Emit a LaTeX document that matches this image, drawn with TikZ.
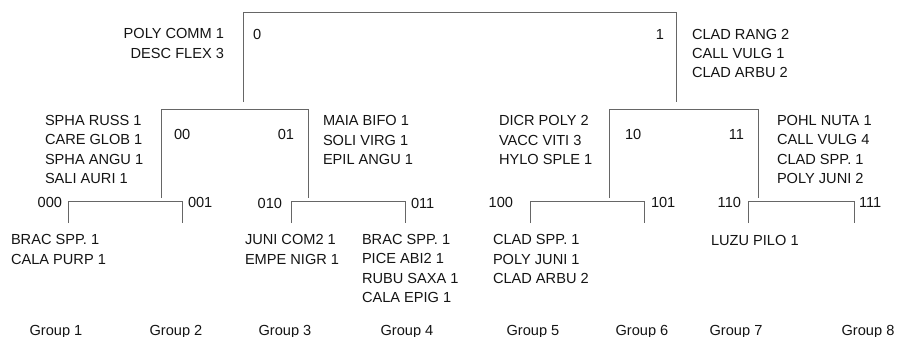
\documentclass[tikz,border=0pt]{standalone}
\usepackage{fontspec}
\setmainfont{Liberation Sans}
\begin{document}
\begin{tikzpicture}[x=1pt,y=-1pt,
  every node/.style={inner sep=0pt,outer sep=0pt,text=black!92,font=\fontsize{14.6}{19.3}\selectfont},
  lst/.style={align=left,anchor=west},
  lbl/.style={anchor=west},
  lblr/.style={anchor=east},
  br/.style={draw=black!60,line width=0.9pt}]
\useasboundingbox (0,0) rectangle (902,337);
% tree coordinates
\coordinate (a0) at (243,12); \coordinate (a1) at (676,12);
\coordinate (b0) at (243,102); \coordinate (b1) at (676,102);
\coordinate (c00) at (161,109); \coordinate (c01) at (308,109);
\coordinate (d00) at (161,198); \coordinate (d01) at (308,198);
\coordinate (c10) at (609,109); \coordinate (c11) at (758,109);
\coordinate (d10) at (609,198); \coordinate (d11) at (758,198);
\coordinate (e000) at (68,201); \coordinate (e001) at (182,201);
\coordinate (f000) at (68,223); \coordinate (f001) at (182,223);
\coordinate (e010) at (291,201); \coordinate (e011) at (405,201);
\coordinate (f010) at (291,223); \coordinate (f011) at (405,223);
\coordinate (e100) at (530,201); \coordinate (e101) at (644,201);
\coordinate (f100) at (530,223); \coordinate (f101) at (644,223);
\coordinate (e110) at (748,201); \coordinate (e111) at (854,201);
\coordinate (f110) at (748,223); \coordinate (f111) at (854,223);
% brackets
\draw[br] (b0) -- (a0) -- (a1) -- (b1);
\draw[br] (d00) -- (c00) -- (c01) -- (d01);
\draw[br] (d10) -- (c10) -- (c11) -- (d11);
\draw[br] (f000) -- (e000) -- (e001) -- (f001);
\draw[br] (f010) -- (e010) -- (e011) -- (f011);
\draw[br] (f100) -- (e100) -- (e101) -- (f101);
\draw[br] (f110) -- (e110) -- (e111) -- (f111);
% level 1
\node[align=right,anchor=east] (t0) at (224,43.5) {POLY COMM 1\\DESC FLEX 3};
\node[lbl] (k0) at (253,34) {0};
\node[lblr] (k1) at (664,34) {1};
\node[lst] (t1) at (692,53.5) {CLAD RANG 2\\CALL VULG 1\\CLAD ARBU 2};
% level 2
\node[lst] (t00) at (45,149.5) {SPHA RUSS 1\\CARE GLOB 1\\SPHA ANGU 1\\SALI AURI 1};
\node[lbl] (k00) at (174,134) {00};
\node[lblr] (k01) at (294,134) {01};
\node[lst] (t01) at (323,140) {MAIA BIFO 1\\SOLI VIRG 1\\EPIL ANGU 1};
\node[lst] (t10) at (499,140) {DICR POLY 2\\VACC VITI 3\\HYLO SPLE 1};
\node[lbl] (k10) at (625,134) {10};
\node[lblr] (k11) at (744,134) {11};
\node[lst] (t11) at (777,149.5) {POHL NUTA 1\\CALL VULG 4\\CLAD SPP. 1\\POLY JUNI 2};
% level 3 labels
\node[lblr] (k000) at (62,202) {000};
\node[lbl] (k001) at (188,202) {001};
\node[lblr] (k010) at (282,203) {010};
\node[lbl] (k011) at (411,203) {011};
\node[lblr] (k100) at (513,202) {100};
\node[lbl] (k101) at (651,202) {101};
\node[lblr] (k110) at (741,202) {110};
\node[lbl] (k111) at (859,202) {111};
% leaf lists
\node[lst] (t000) at (11,249.5) {BRAC SPP. 1\\CALA PURP 1};
\node[lst] (t010) at (245,249.5) {JUNI COM2 1\\EMPE NIGR 1};
\node[lst] (t011) at (362,268.5) {BRAC SPP. 1\\PICE ABI2 1\\RUBU SAXA 1\\CALA EPIG 1};
\node[lst] (t100) at (493,259) {CLAD SPP. 1\\POLY JUNI 1\\CLAD ARBU 2};
\node[lst] (t110) at (711,240) {LUZU PILO 1};
% groups
\node[anchor=base] (g1) at (56,335) {Group 1};
\node[anchor=base] (g2) at (176,335) {Group 2};
\node[anchor=base] (g3) at (285,335) {Group 3};
\node[anchor=base] (g4) at (407,335) {Group 4};
\node[anchor=base] (g5) at (533,335) {Group 5};
\node[anchor=base] (g6) at (642,335) {Group 6};
\node[anchor=base] (g7) at (736,335) {Group 7};
\node[anchor=base] (g8) at (868,335) {Group 8};
\end{tikzpicture}
\end{document}
